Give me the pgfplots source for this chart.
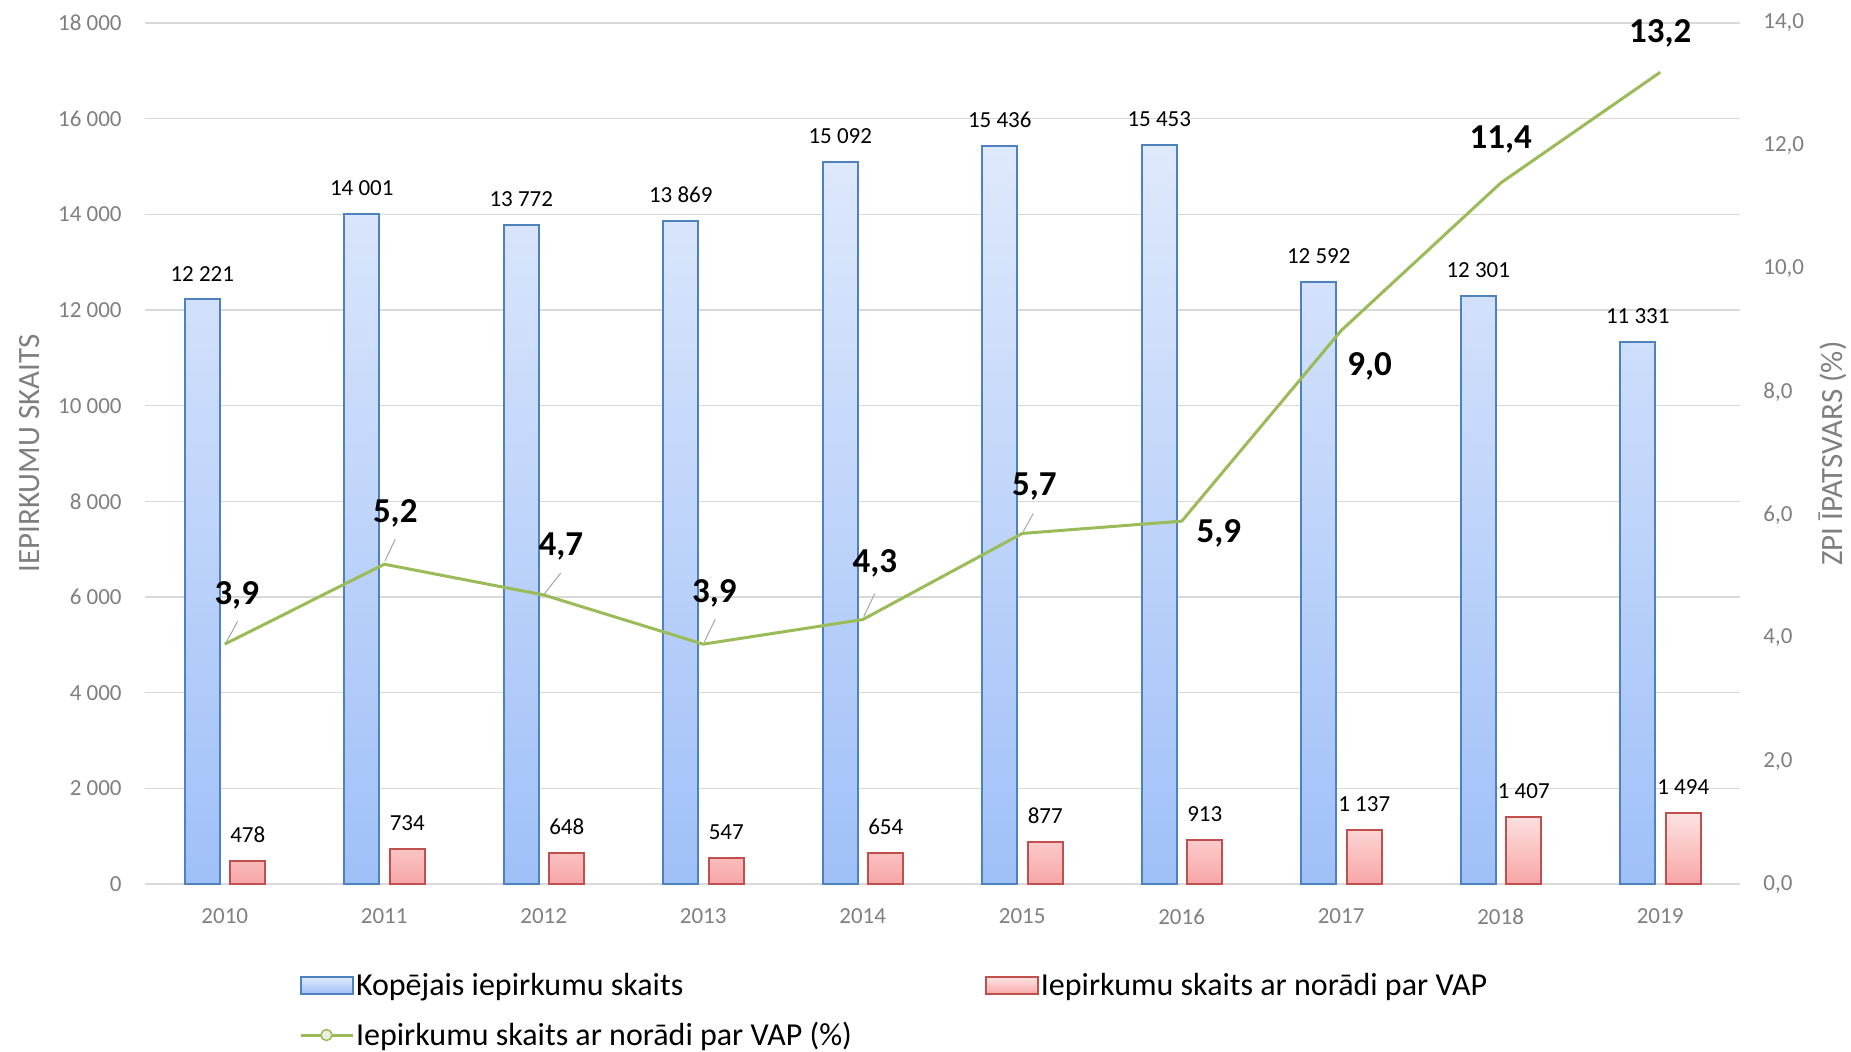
\documentclass[border=0pt]{standalone}
\usepackage{fontspec}
\setmainfont{Carlito}
\usepackage{pgfplots}
\pgfplotsset{compat=1.18}

\definecolor{barblue}{HTML}{4F81BD}
\definecolor{bluetop}{HTML}{DFE9FC}
\definecolor{bluebot}{HTML}{9FC0F8}
\definecolor{barred}{HTML}{C0504D}
\definecolor{redtop}{HTML}{FDE3E3}
\definecolor{redbot}{HTML}{F8A6A6}
\definecolor{lgreen}{HTML}{9BBB59}
\definecolor{markfill}{HTML}{EBF1DE}
\definecolor{txtgray}{HTML}{7F7F7F}
\definecolor{gridgray}{HTML}{D9D9D9}
\definecolor{leadgray}{HTML}{A6A6A6}

\newcommand{\fs}[1]{\fontsize{#1}{#1}\selectfont}

\pgfplotsset{
  base/.style={
    scale only axis, width=797.5pt, height=430.5pt,
    at={(0pt,0pt)}, anchor=south west,
    xmin=2009.5, xmax=2019.5,
    tick style={draw=none},
    scaled ticks=false,
    /pgf/number format/assume math mode=true,
  }
}

\begin{document}
\begin{tikzpicture}
\path[use as bounding box] (-72.5pt,-83.5pt) rectangle (853pt,442pt);

\begin{axis}[base,
  ymin=0, ymax=18000,
  axis y line*=left, axis x line*=bottom,
  axis line style={draw=none},
  ytick={0,2000,...,18000},
  yticklabel={\pgfmathprintnumber[fixed,precision=0,1000 sep={\ }]{\tick}},
  ymajorgrids, grid style={gridgray, line width=0.8pt},
  xtick={2010,...,2019},
  xticklabel={\pgfmathprintnumber[fixed,precision=0,1000 sep={}]{\tick}},
  ticklabel style={font=\fs{11.5}, text=txtgray, inner sep=0pt},
  yticklabel style={xshift=-11.5pt},
  xticklabel style={yshift=-7.8pt},
  ybar, bar width=17.5pt,
  nodes near coords={\pgfmathprintnumber[fixed,precision=0,1000 sep={\ }]{\pgfplotspointmeta}},
  nodes near coords style={font=\fs{11.5}, text=black, inner sep=0pt, anchor=south, yshift=8.6pt},
]
\addplot[draw=barblue, line width=1pt, top color=bluetop, bottom color=bluebot, bar shift=-11.25pt]
  coordinates {(2010,12221) (2011,14001) (2012,13772) (2013,13869) (2014,15092)
               (2015,15436) (2016,15453) (2017,12592) (2018,12301) (2019,11331)};
\addplot[draw=barred, line width=1pt, top color=redtop, bottom color=redbot, bar shift=11.5pt]
  coordinates {(2010,478) (2011,734) (2012,648) (2013,547) (2014,654)
               (2015,877) (2016,913) (2017,1137) (2018,1407) (2019,1494)};
\end{axis}

\begin{axis}[base,
  clip=false,
  ymin=0, ymax=14,
  axis y line*=right, axis x line=none,
  axis line style={draw=none},
  ytick={0,2,...,14},
  yticklabel={\pgfmathprintnumber[fixed,fixed zerofill,precision=1,use comma]{\tick}},
  yticklabel style={font=\fs{11.5}, text=txtgray, inner sep=0pt, xshift=11.5pt},
  legend columns=2, legend cell align=left,
  legend style={at={(rel axis cs:0,0)}, anchor=north west, xshift=77pt, yshift=-44.6pt,
    draw=none, fill=none, font=\fs{16}, inner sep=0pt, outer sep=0pt,
    nodes={inner sep=0pt}, column sep=1pt, row sep=11.7pt,
    /tikz/column 2/.style={column sep=66.5pt}},
]
\addlegendimage{legend image code/.code={\draw[barblue, line width=1pt, top color=bluetop, bottom color=bluebot] (0pt,-4.25pt) rectangle (26pt,4.25pt);}}
\addlegendentry{Kopējais iepirkumu skaits}
\addlegendimage{legend image code/.code={\draw[barred, line width=1pt, top color=redtop, bottom color=redbot] (0pt,-4.25pt) rectangle (26pt,4.25pt);}}
\addlegendentry{Iepirkumu skaits ar norādi par VAP}
\addplot[lgreen, line width=1.5pt, mark=none, line join=round, forget plot]
  coordinates {(2010,3.9) (2011,5.2) (2012,4.7) (2013,3.9) (2014,4.3)
               (2015,5.7) (2016,5.9) (2017,9.0) (2018,11.4) (2019,13.2)};
\addlegendimage{legend image code/.code={\draw[lgreen, line width=1.5pt] (0pt,0pt) -- (26pt,0pt); \draw[lgreen, line width=0.75pt, fill=markfill] (13pt,0pt) circle (2.75pt);}}
\addlegendentry{Iepirkumu skaits ar norādi par VAP (\%)}

% leader lines
\draw[leadgray, line width=0.5pt] ([xshift=0.5pt,yshift=0.5pt]axis cs:2010,3.9) -- ([xshift=6.5pt,yshift=11.5pt]axis cs:2010,3.9);
\draw[leadgray, line width=0.5pt] ([xshift=0.3pt,yshift=1.5pt]axis cs:2011,5.2) -- ([xshift=5.5pt,yshift=12.5pt]axis cs:2011,5.2);
\draw[leadgray, line width=0.5pt] ([xshift=0.3pt,yshift=0.5pt]axis cs:2012,4.7) -- ([xshift=8.5pt,yshift=11pt]axis cs:2012,4.7);
\draw[leadgray, line width=0.5pt] ([xshift=0.5pt,yshift=1pt]axis cs:2013,3.9) -- ([xshift=6pt,yshift=12.5pt]axis cs:2013,3.9);
\draw[leadgray, line width=0.5pt] ([xshift=0.5pt,yshift=1.5pt]axis cs:2014,4.3) -- ([xshift=6pt,yshift=13pt]axis cs:2014,4.3);
\draw[leadgray, line width=0.5pt] ([xshift=0.5pt,yshift=1pt]axis cs:2015,5.7) -- ([xshift=5.5pt,yshift=10pt]axis cs:2015,5.7);

\begin{scope}[every node/.style={font=\bfseries\fs{17.5}, text=black, inner sep=0pt}]
\node[xshift=6pt, yshift=24.5pt] at (axis cs:2010,3.9) {3,9};
\node[xshift=5.5pt, yshift=25.5pt] at (axis cs:2011,5.2) {5,2};
\node[xshift=8.5pt, yshift=24pt] at (axis cs:2012,4.7) {4,7};
\node[xshift=5.5pt, yshift=25.5pt] at (axis cs:2013,3.9) {3,9};
\node[xshift=6pt, yshift=28pt] at (axis cs:2014,4.3) {4,3};
\node[xshift=6pt, yshift=23.5pt] at (axis cs:2015,5.7) {5,7};
\node[xshift=18.5pt, yshift=-6.3pt] at (axis cs:2016,5.9) {5,9};
\node[xshift=14.2pt, yshift=-17.8pt] at (axis cs:2017,9.0) {9,0};
\node[xshift=0pt, yshift=21.9pt] at (axis cs:2018,11.4) {11,4};
\node[xshift=0pt, yshift=19.6pt] at (axis cs:2019,13.2) {13,2};
\end{scope}
\end{axis}

\node[rotate=90, font=\fs{15.5}, text=txtgray] at (-57.5pt,215.25pt) {IEPIRKUMU SKAITS};
\node[rotate=90, font=\fs{15.5}, text=txtgray] at (844pt,215.25pt) {ZPI ĪPATSVARS (\%)};
\end{tikzpicture}
\end{document}
